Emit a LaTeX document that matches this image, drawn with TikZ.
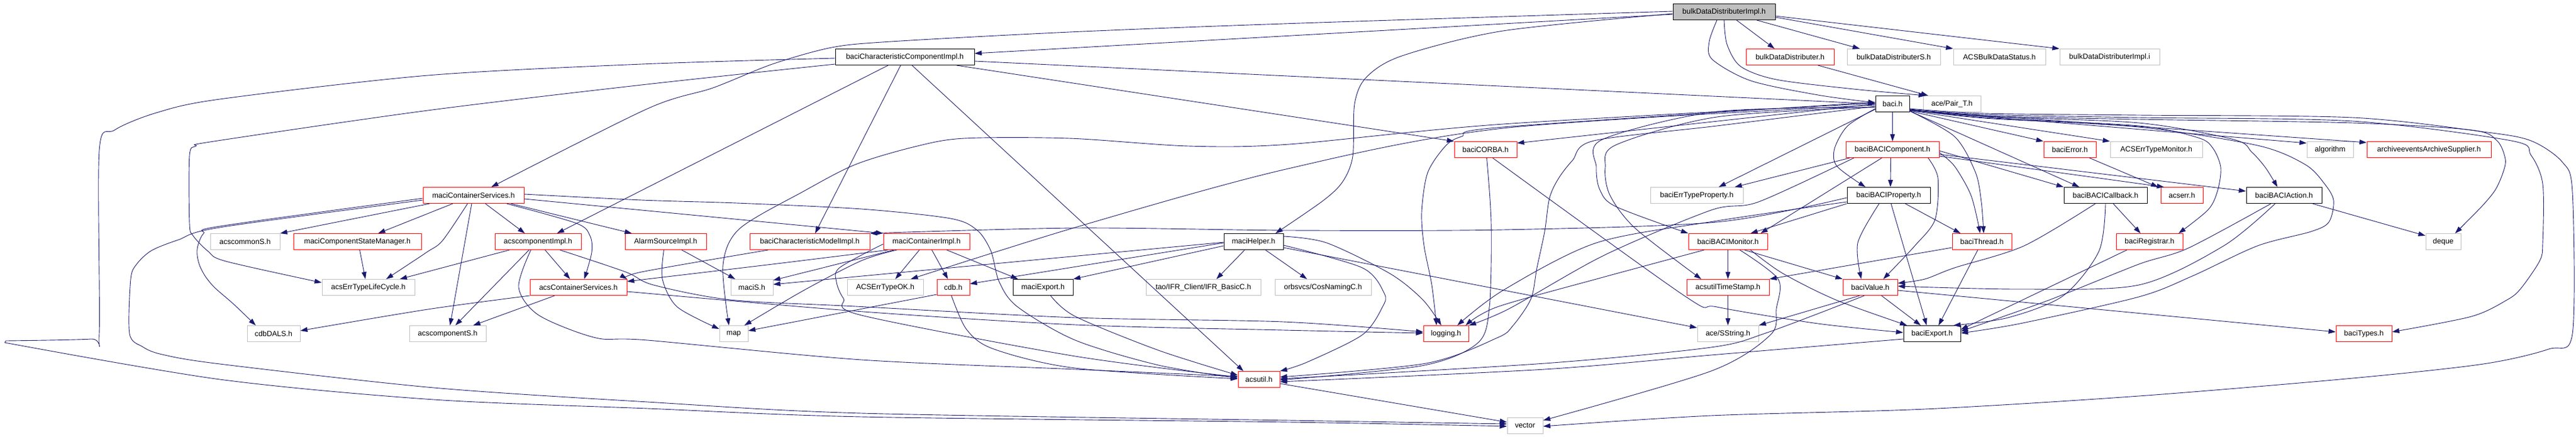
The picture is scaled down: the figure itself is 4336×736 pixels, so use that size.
\documentclass[tikz,border=0pt]{standalone}
\usepackage{fontspec}
\setmainfont{Liberation Sans}
\usetikzlibrary{arrows.meta}
\definecolor{edgec}{HTML}{191970}
\definecolor{gbox}{HTML}{BFBFBF}
\newcommand\nodefont{\fontsize{12.5}{15}\selectfont}
\tikzset{
  gn/.style={rectangle, line width=1pt, minimum height=27pt, inner sep=0pt, font=\nodefont, text=black},
  nb/.style={gn, draw=black},
  nr/.style={gn, draw=red},
  ng/.style={gn, draw=gbox},
  e/.style={draw=edgec, line width=0.9pt, line join=round, -{Triangle[length=12pt,width=8pt]}},
}
\begin{document}
\begin{tikzpicture}[x=1pt,y=-1pt]
\path[use as bounding box, fill=white] (0,0) rectangle (4336,736);
% ---------------- nodes ----------------
\node[nb, fill=gbox, minimum width=172pt] (root) at (2902,20) {bulkDataDistributerImpl.h};
\node[nb, minimum width=234pt] (ccimpl) at (1523,96) {baciCharacteristicComponentImpl.h};
\node[nr, minimum width=148pt] (bdd) at (3013,96) {bulkDataDistributer.h};
\node[ng, minimum width=157pt] (bdds) at (3187.5,96) {bulkDataDistributerS.h};
\node[ng, minimum width=155pt] (status) at (3365.5,96) {ACSBulkDataStatus.h};
\node[ng, minimum width=168pt] (impli) at (3551,96) {bulkDataDistributerImpl.i};
\node[nb, minimum width=57pt] (baci) at (3185.5,175) {baci.h};
\node[ng, minimum width=97pt] (pair) at (3285.5,175) {ace/Pair\_T.h};
\node[nr, minimum width=105pt] (corba) at (2500.5,252) {baciCORBA.h};
\node[nr, minimum width=157pt] (comp) at (3185.5,252) {baciBACIComponent.h};
\node[nr, minimum width=88pt] (error) at (3484,252) {baciError.h};
\node[ng, minimum width=155pt] (etmon) at (3629.5,252) {ACSErrTypeMonitor.h};
\node[ng, minimum width=78pt] (algo) at (3922,252) {algorithm};
\node[nr, minimum width=209pt] (arch) at (4088.5,252) {archiveeventsArchiveSupplier.h};
\node[nr, minimum width=170pt] (mcs) at (797,329) {maciContainerServices.h};
\node[ng, minimum width=156pt] (etprop) at (2856,329) {baciErrTypeProperty.h};
\node[nb, minimum width=140pt] (prop) at (3179,329) {baciBACIProperty.h};
\node[nb, minimum width=140pt] (cb) at (3544,329) {baciBACICallback.h};
\node[nr, minimum width=71pt] (acserr) at (3672.5,329) {acserr.h};
\node[nb, minimum width=127pt] (action) at (3844.5,329) {baciBACIAction.h};
\node[nr, minimum width=215pt] (csm) at (601.5,407) {maciComponentStateManager.h};
\node[ng, minimum width=117pt] (common) at (412.5,407) {acscommonS.h};
\node[nr, minimum width=145pt] (aci) at (905.5,407) {acscomponentImpl.h};
\node[nr, minimum width=137pt] (alarm) at (1120.5,407) {AlarmSourceImpl.h};
\node[nr, minimum width=202pt] (cmimpl) at (1363,407) {baciCharacteristicModelImpl.h};
\node[nr, minimum width=145pt] (mci) at (1559.5,407) {maciContainerImpl.h};
\node[nb, minimum width=100pt] (helper) at (2110,407) {maciHelper.h};
\node[nr, minimum width=133pt] (monitor) at (2908.5,407) {baciBACIMonitor.h};
\node[nr, minimum width=100pt] (thread) at (3336,407) {baciThread.h};
\node[nr, minimum width=112pt] (reg) at (3618,407) {baciRegistrar.h};
\node[ng, minimum width=59pt] (deque) at (4112.5,407) {deque};
\node[ng, minimum width=156pt] (lifecycle) at (620,484) {acsErrTypeLifeCycle.h};
\node[nr, minimum width=163pt] (acs) at (973.5,484) {acsContainerServices.h};
\node[ng, minimum width=71pt] (macis) at (1265.5,484) {maciS.h};
\node[ng, minimum width=128pt] (etok) at (1490,484) {ACSErrTypeOK.h};
\node[nr, minimum width=55pt] (cdb) at (1604.5,484) {cdb.h};
\node[nb, minimum width=101pt] (mexport) at (1755.5,484) {maciExport.h};
\node[ng, minimum width=193pt] (ifr) at (2025.5,484) {tao/IFR\_Client/IFR\_BasicC.h};
\node[ng, minimum width=162pt] (cosnaming) at (2227,484) {orbsvcs/CosNamingC.h};
\node[nr, minimum width=139pt] (ts) at (2908.5,484) {acsutilTimeStamp.h};
\node[nr, minimum width=92pt] (value) at (3148,484) {baciValue.h};
\node[ng, minimum width=89pt] (dals) at (460.5,562) {cdbDALS.h};
\node[ng, minimum width=129pt] (acss) at (753.5,562) {acscomponentS.h};
\node[ng, minimum width=48pt] (map) at (1235,562) {map};
\node[nr, minimum width=76pt] (logging) at (2434,562) {logging.h};
\node[ng, minimum width=103pt] (sstring) at (2908.5,562) {ace/SString.h};
\node[nb, minimum width=96pt] (bexport) at (3252,562) {baciExport.h};
\node[nr, minimum width=94pt] (types) at (3979,562) {baciTypes.h};
\node[nr, minimum width=70pt] (acsutil) at (2119,639) {acsutil.h};
\node[ng, minimum width=60pt] (vector) at (2567,717) {vector};
% ---------------- edges: root ----------------
\draw[e] ([yshift=-4pt]root.west) -- ([yshift=6pt]ccimpl.east);
\draw[e] plot[smooth] coordinates {([yshift=1pt]root.west) (2160,40) (1800,54) (1500,70) (1400,80) (1300,108) (1200,148) (1090,183) ([xshift=30pt]mcs.north)};
\draw[e] plot[smooth] coordinates {([yshift=-3pt]root.west) (2530,52) (2360,94) (2300,130) (2280,175) (2277,263) (2260,306) (2227,338) ([xshift=37pt]helper.north)};
\draw[e] plot[smooth] coordinates {([xshift=-12pt]root.south) (2877,70) (2882,100) (2947,136) (3060,160) ([yshift=2pt]baci.west)};
\draw[e] plot[smooth] coordinates {(root.south) (2907,75) (2930,112) (2990,134) (3120,150) ([xshift=-44pt]pair.north)};
\draw[e] ([xshift=21pt]root.south) -- ([xshift=-26pt]bdd.north);
\draw[e] ([xshift=55pt]root.south) -- ([xshift=-57pt]bdds.north);
\draw[e] ([yshift=-9pt]root.east) -- (status.north west);
\draw[e] ([yshift=-7pt]root.east) -- (impli.north west);
\draw[e] ([xshift=47pt]bdd.south) -- ([xshift=-40pt]pair.north);
% ---------------- ccimpl ----------------
\draw[e] ([yshift=-7pt]ccimpl.east) -- (baci.west);
\draw[e] ([xshift=87pt]ccimpl.south) -- (corba.north west);
\draw[e] ([xshift=-28pt]ccimpl.south) -- ([xshift=32pt]aci.north);
\draw[e] ([xshift=-7pt]ccimpl.south) -- ([xshift=9pt]cmimpl.north);
\draw[e] ([xshift=12pt]ccimpl.south) -- ([xshift=-26pt]acsutil.north);
\draw[e] plot[smooth] coordinates {([yshift=-2pt]ccimpl.west) (1080,108) (720,127) (370,167) (263,190) (193,219) (167,254) (167,562) (153,571) (10,574)} -- plot[smooth] coordinates {(8,577) (370,639) (730,673) (1090,688) (1450,702) (2170,711) ([yshift=-1pt]vector.west)};
\draw[e] plot[smooth] coordinates {([yshift=-12pt]ccimpl.west) (1080,143) (720,186) (360,238) (330,246) (319,262) (319,376) (325,397) (350,423) (380,440) ([yshift=8pt]lifecycle.west)};
% ---------------- mcs ----------------
\draw[e] ([xshift=-74pt]mcs.south) -- (common.north east);
\draw[e] ([xshift=-35pt]mcs.south) -- ([xshift=35pt]csm.north);
\draw[e] plot[smooth] coordinates {([xshift=-10pt]mcs.south) (745,405) (718,425) ([xshift=30pt]lifecycle.north)};
\draw[e] plot[smooth] coordinates {([yshift=-5pt]mcs.west) (370,381) (343,393) (333,414) (332,430) (336,447) (346,466) (362,485) (393,512) ([xshift=-30pt]dals.north)};
\draw[e] plot[smooth] coordinates {([yshift=-8pt]mcs.west) (370,383) (300,404) (255,422) (230,445) (220,470) (218,562) (240,584) (273,597) (370,613) (730,653) (1090,677) (1450,696) (2170,708) ([yshift=3pt]vector.west)};
\draw[e] ([xshift=-3pt]mcs.south) -- ([xshift=4pt]acss.north);
\draw[e] ([xshift=20pt]mcs.south) -- ([xshift=-22pt]aci.north);
\draw[e] plot[smooth] coordinates {([xshift=56pt]mcs.south) (970,376) (993,397) (996,425) ([xshift=10pt]acs.north)};
\draw[e] ([xshift=63pt]mcs.south) -- ([xshift=-57pt]alarm.north);
\draw[e] ([yshift=-6pt]mcs.east) -- (mci.north west);
\draw[e] plot[smooth] coordinates {([yshift=2pt]mcs.east) (1080,337) (1240,342) (1450,352) (1600,368) (1645,388) (1668,423) (1682,475) (1713,517) (1810,573) (1950,615) ([yshift=2pt]acsutil.west)};
% ---------------- aci / acs / cmimpl / alarm ----------------
\draw[e] ([xshift=-15pt]aci.south) -- ([xshift=13pt]acss.north);
\draw[e] ([xshift=12pt]aci.south) -- ([xshift=-14pt]acs.north);
\draw[e] ([xshift=-48pt]aci.south) -- ([xshift=53pt]lifecycle.north);
\draw[e] plot[smooth] coordinates {([xshift=-12pt]aci.south) (873,484) (907,531) (1003,569) (1090,573) (1450,606) (1810,622) ([yshift=5pt]acsutil.west)};
\draw[e] plot[smooth] coordinates {([xshift=37pt]aci.south) (1053,458) (1100,480) (1230,505) (1440,516) (1810,535) (2160,542) ([yshift=3pt]logging.west)};
\draw[e] plot[smooth] coordinates {([yshift=-7pt]acs.east) (1440,524) (1810,547) (2160,556) ([yshift=1pt]logging.west)};
\draw[e] ([xshift=-40pt]acs.south) -- ([xshift=43pt]acss.north);
\draw[e] plot[smooth] coordinates {(acs.south west) (720,521) ([yshift=5pt]dals.east)};
\draw[e] plot[smooth] coordinates {([xshift=-70pt]cmimpl.south) (1080,458) (acs.north east)};
\draw[e] ([xshift=27pt]alarm.south) -- ([xshift=-28pt]macis.north);
\draw[e] plot[smooth] coordinates {([xshift=-3pt]alarm.south) (1115,470) (1140,517) ([yshift=8pt]map.west)};
\draw[e] ([xshift=4pt]csm.south) -- ([xshift=-5pt]lifecycle.north);
% ---------------- mci / cdb / mexport ----------------
\draw[e] ([xshift=-12pt]mci.south) -- ([xshift=17pt]etok.north);
\draw[e] ([xshift=9pt]mci.south) -- ([xshift=-9pt]cdb.north);
\draw[e] ([xshift=34pt]mci.south) -- ([xshift=-42pt]mexport.north);
\draw[e] ([xshift=-55pt]mci.south) -- ([yshift=12pt]macis.east);
\draw[e] plot[smooth] coordinates {([xshift=-50pt]mci.south) (1450,439) (1353,489) ([xshift=18pt]map.north)};
\draw[e] plot[smooth] coordinates {([yshift=-4pt]mci.west) (1413,451) (1408,475) (1420,503) (1450,531) (1810,600) ([yshift=4pt]acsutil.west)};
\draw[e] plot[smooth] coordinates {([xshift=-65pt]mci.south) (1300,445) ([yshift=10pt]acs.east)};
\draw[e] ([yshift=-12pt]cdb.west) -- ([yshift=5pt]map.east);
\draw[e] plot[smooth] coordinates {([xshift=-3pt]cdb.south) (1627,555) (1673,588) (1810,620) ([yshift=1pt]acsutil.west)};
\draw[e] plot[smooth] coordinates {([xshift=13pt]mexport.south) (1810,533) (1950,590) ([yshift=7pt]acsutil.west)};
% ---------------- helper ----------------
\draw[e] ([yshift=-1pt]helper.west) -- ([yshift=5pt]macis.east);
\draw[e] ([xshift=-15pt]helper.south) -- ([xshift=22pt]ifr.north);
\draw[e] plot[smooth] coordinates {([xshift=20pt]helper.south) (2173,451) ([xshift=-27pt]cosnaming.north)};
\draw[e] ([yshift=-7pt]helper.west) -- (mexport.north east);
\draw[e] ([yshift=-2pt]helper.west) -- ([yshift=6pt]cdb.east);
\draw[e] plot[smooth] coordinates {([yshift=9pt]helper.east) (2233,409) (2340,461) (2395,505) ([xshift=-8pt]logging.north)};
\draw[e] plot[smooth] coordinates {([yshift=-6pt]helper.east) (2293,451) (2330,494) (2327,517) (2293,564) (2200,610) (acsutil.north east)};
\draw[e] ([yshift=-10pt]helper.east) -- ([yshift=10pt]sstring.west);
% ---------------- corba ----------------
\draw[e] plot[smooth] coordinates {([xshift=2pt]corba.south) (2510,376) (2507,517) (2487,578) (2393,616) ([yshift=-1pt]acsutil.east)};
\draw[e] plot[smooth] coordinates {([xshift=12pt]corba.south) (2835,498) (2890,517) (3060,545) ([yshift=2pt]bexport.west)};
% ---------------- baci ----------------
\draw[e] (baci.west) -- ([yshift=11pt]corba.east);
\draw[e] (baci) -- (comp);
\draw[e] plot[smooth] coordinates {([yshift=-8pt]baci.west) (3110,212) (3088,250) (3092,280) ([xshift=-39pt]prop.north)};
\draw[e] ([yshift=-9pt]baci.west) -- ([xshift=37pt]etprop.north);
\draw[e] plot[smooth] coordinates {([yshift=1pt]baci.west) (2530,209) (2170,243) (2000,246) (1800,233) (1623,233) (1540,247) (1440,277) (1353,322) (1245,385) (1217,446) ([xshift=-8pt]map.north)};
\draw[e] plot[smooth] coordinates {([yshift=-2pt]baci.west) (2530,216) (2160,286) (1810,383) ([xshift=43pt]etok.north)};
\draw[e] plot[smooth] coordinates {([yshift=3pt]baci.west) (2530,214) (2460,230) (2433,246) (2403,291) (2393,357) (2397,414) (2410,480) ([xshift=-16pt]logging.north)};
\draw[e] plot[smooth] coordinates {([yshift=-4pt]baci.west) (2890,212) (2683,237) (2647,270) (2623,301) (2608,334) (2600,390) (2587,451) (2577,503) (2547,548) (2520,569) (2400,612) ([yshift=4pt]acsutil.east)};
\draw[e] plot[smooth] coordinates {([yshift=-6pt]baci.west) (2890,188) (2697,235) (2687,282) (2693,320) (2720,348) (monitor.north west)};
\draw[e] plot[smooth] coordinates {([yshift=-5pt]baci.west) (2890,197) (2720,244) (2702,282) (2710,329) (2753,385) ([xshift=-45pt]ts.north)};
\draw[e] plot[smooth] coordinates {([yshift=-8pt]baci.east) (3340,191) (3600,194) (3960,198) (4180,222) (4260,237) (4313,273) (4330,324) (4330,562) (4290,588) (4180,613) (3960,637) (3600,667) (3240,689) (2880,700) ([yshift=-1pt]vector.east)};
\draw[e] plot[smooth] coordinates {([yshift=-9pt]baci.east) (3340,193) (3600,198) (3960,204) (4227,237) (4260,261) (4280,310) (4280,409) (4275,439) (4243,486) (4220,505) (4160,533) ([yshift=3pt]types.east)};
\draw[e] plot[smooth] coordinates {([yshift=-10pt]baci.east) (3340,195) (3600,201) (3960,207) (4160,219) (4203,237) (4217,268) (4213,291) (4200,320) (4177,348) ([xshift=20pt]deque.north)};
\draw[e] ([yshift=-11pt]baci.east) -- ([yshift=12pt]arch.west);
\draw[e] ([yshift=-11pt]baci.east) -- ([yshift=11pt]algo.west);
\draw[e] ([yshift=-11pt]baci.east) -- (etmon.north west);
\draw[e] ([yshift=-12pt]baci.east) -- (error.north west);
\draw[e] plot[smooth] coordinates {([yshift=-12pt]baci.east) (3290,230) (3325,290) (3335,340) ([xshift=3pt]thread.north)};
\draw[e] ([yshift=-12pt]baci.east) -- ([xshift=-44pt]cb.north);
\draw[e] plot[smooth] coordinates {([yshift=-10pt]baci.east) (3340,196) (3600,207) (3760,235) (3790,256) (3813,282) ([xshift=-11pt]action.north)};
\draw[e] plot[smooth] coordinates {([yshift=-10pt]baci.east) (3340,198) (3600,212) (3700,232) (3725,250) (3738,282) (3733,320) (3717,353) ([xshift=49pt]reg.north)};
\draw[e] plot[smooth] coordinates {([yshift=-10pt]baci.east) (3340,199) (3600,214) (3800,245) (3880,277) (3913,310) (3928,338) (3920,374) (3890,390) (3800,414) (3690,465) (3600,500) (3400,545) ([yshift=1pt]bexport.east)};
% ---------------- comp ----------------
\draw[e] ([xshift=-72pt]comp.south) -- ([xshift=64pt]etprop.north);
\draw[e] ([xshift=-3pt]comp.south) -- ([xshift=3pt]prop.north);
\draw[e] ([xshift=-18pt]comp.south) -- ([xshift=55pt]monitor.north);
\draw[e] ([yshift=-2pt]comp.east) -- (cb.north west);
\draw[e] ([yshift=-8pt]comp.east) -- ([yshift=7pt]action.west);
\draw[e] plot[smooth] coordinates {([yshift=-5pt]comp.east) (3290,280) (3318,330) ([xshift=-3pt]thread.north)};
\draw[e] ([yshift=-11pt]comp.east) -- ([xshift=-30pt]acserr.north);
\draw[e] ([xshift=33pt]error.south) -- ([xshift=-40pt]acserr.north);
\draw[e] plot[smooth] coordinates {([xshift=60pt]comp.south) (3262,300) (3257,370) (3223,414) ([xshift=22pt]value.north)};
\draw[e] plot[smooth] coordinates {([xshift=-65pt]comp.south) (2960,340) (2880,354) (2700,430) (2540,520) (logging.north east)};
% ---------------- prop ----------------
\draw[e] plot[smooth] coordinates {([yshift=-4pt]prop.west) (2890,374) (2530,387) (2170,388) (1810,384) (cmimpl.north east)};
\draw[e] plot[smooth] coordinates {([yshift=-11pt]prop.west) (2890,372) (2687,409) (2530,489) ([xshift=19pt]logging.north)};
\draw[e] plot[smooth] coordinates {([xshift=-16pt]prop.south) (3127,409) ([xshift=-15pt]value.north)};
\draw[e] ([xshift=4pt]prop.south) -- ([xshift=-9pt]bexport.north);
\draw[e] (prop.south west) -- ([xshift=38pt]monitor.north);
\draw[e] ([xshift=28pt]prop.south) -- ([xshift=-36pt]thread.north);
% ---------------- monitor / thread / cb / action / reg ----------------
\draw[e] (monitor) -- (ts);
\draw[e] ([xshift=28pt]monitor.south) -- (value.north west);
\draw[e] plot[smooth] coordinates {([xshift=38pt]monitor.south) (3000,460) (3090,505) ([xshift=-42pt]bexport.north)};
\draw[e] plot[smooth] coordinates {([xshift=20pt]monitor.south) (2993,470) (2990,520) (2980,564) (2880,625) ([yshift=9pt]vector.east)};
\draw[e] plot[smooth] coordinates {([xshift=-40pt]monitor.south) (2687,470) (2520,517) ([xshift=33pt]logging.north)};
\draw[e] ([xshift=-7pt]thread.south) -- ([xshift=11pt]bexport.north);
\draw[e] ([yshift=-10pt]thread.west) -- (ts.north east);
\draw[e] ([xshift=13pt]cb.south) -- ([xshift=-15pt]reg.north);
\draw[e] plot[smooth] coordinates {(cb.south) (3533,423) (3473,498) (3380,535) ([xshift=36pt]bexport.north)};
\draw[e] plot[smooth] coordinates {([xshift=-17pt]cb.south) (3407,414) (3290,451) (3240,470) ([yshift=7pt]value.east)};
\draw[e] plot[smooth] coordinates {([xshift=-22pt]action.south) (3683,418) (3600,445) (3450,505) ([yshift=4pt]bexport.east)};
\draw[e] plot[smooth] coordinates {([xshift=-15pt]action.south) (3743,414) (3600,480) (3400,487) ([yshift=2pt]value.east)};
\draw[e] ([xshift=48pt]action.south) -- ([yshift=10pt]deque.west);
\draw[e] ([xshift=-38pt]reg.south) -- ([yshift=7pt]bexport.east);
% ---------------- value / ts / bexport / acsutil ----------------
\draw[e] ([xshift=-18pt]value.south) -- (sstring.north east);
\draw[e] ([xshift=19pt]value.south) -- ([xshift=-19pt]bexport.north);
\draw[e] ([yshift=-5pt]value.east) -- ([yshift=3pt]types.west);
\draw[e] plot[smooth] coordinates {([xshift=-10pt]value.south) (2975,560) (2880,585) (2600,612) ([yshift=1pt]acsutil.east)};
\draw[e] plot[smooth] coordinates {([yshift=-9pt]bexport.west) (2880,598) (2600,622) ([yshift=-4pt]acsutil.east)};
\draw[e] (ts) -- (sstring);
\draw[e] ([yshift=-7pt]acsutil.east) -- ([yshift=6pt]vector.west);
\end{tikzpicture}
\end{document}
